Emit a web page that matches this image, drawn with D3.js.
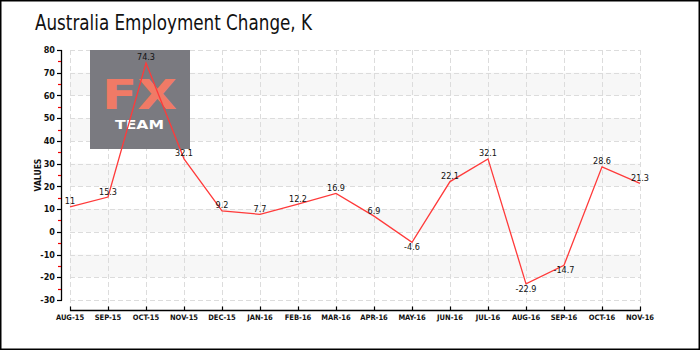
<!DOCTYPE html>
<html><head><meta charset="utf-8">
<script src="https://cdn.jsdelivr.net/npm/d3@7"></script>
<style>body{margin:0;background:#fff}svg{display:block}text{font-family:"DejaVu Sans Condensed","DejaVu Sans",sans-serif}</style>
</head><body>
<svg id="c" width="700" height="350"></svg>
<script>
const months = ["AUG-15","SEP-15","OCT-15","NOV-15","DEC-15","JAN-16","FEB-16","MAR-16","APR-16","MAY-16","JUN-16","JUL-16","AUG-16","SEP-16","OCT-16","NOV-16"];
const values = [11,15.3,74.3,32.1,9.2,7.7,12.2,16.9,6.9,-4.6,22.1,32.1,-22.9,-14.7,28.6,21.3];
const yTicks = [80,70,60,50,40,30,20,10,0,-10,-20,-30];
const yMinor = [75,65,55,45,35,25,15,5,-5,-15,-25];
const bands = [[60,70],[40,50],[20,30],[0,10],[-20,-10]];
const title = "Australia Employment Change, K";

const svg = d3.select("#c");
const x = d3.scalePoint().domain(months).range([70,640]);
const y = d3.scaleLinear().domain([-30,80]).range([300,50]);

svg.append("rect").attr("x",0.75).attr("y",0.75).attr("width",698.5).attr("height",348.5)
  .attr("fill","#fff").attr("stroke","#000").attr("stroke-width",1.5);

svg.append("text").attr("x",35).attr("y",30).attr("font-size",21).attr("fill","#111")
  .attr("textLength",277).attr("lengthAdjust","spacingAndGlyphs").text(title);

// bands
svg.append("g").selectAll("rect").data(bands).join("rect")
  .attr("x",70).attr("width",570).attr("y",d=>y(d[1])).attr("height",d=>y(d[0])-y(d[1]))
  .attr("fill","#f7f7f7");

// grid
const grid = svg.append("g").attr("stroke","#dcdcdc").attr("stroke-dasharray","5,3").attr("stroke-width",1);
grid.selectAll("line.h").data(yTicks).join("line").attr("class","h")
  .attr("x1",70).attr("x2",640).attr("y1",d=>Math.round(y(d))+0.5).attr("y2",d=>Math.round(y(d))+0.5);
grid.selectAll("line.v").data(months).join("line").attr("class","v")
  .attr("x1",d=>Math.round(x(d))+0.5).attr("x2",d=>Math.round(x(d))+0.5).attr("y1",50).attr("y2",308);

// logo
const logo = svg.append("g");
logo.append("rect").attr("x",90).attr("y",50).attr("width",100).attr("height",99).attr("fill","#7a7a80");
logo.append("text").attr("x",139.5).attr("y",109).attr("text-anchor","middle").attr("font-size",40)
  .attr("font-weight","bold").attr("fill","#f07a66").attr("textLength",75).attr("lengthAdjust","spacingAndGlyphs")
  .style("font-family","'DejaVu Sans',sans-serif").text("FX");
logo.append("text").attr("x",139.5).attr("y",129).attr("text-anchor","middle").attr("font-size",12)
  .attr("font-weight","bold").attr("fill","#fff").attr("textLength",49).attr("lengthAdjust","spacingAndGlyphs")
  .style("font-family","'DejaVu Sans',sans-serif").text("TEAM");

// y axis
const ya = svg.append("g");
ya.append("line").attr("x1",61.5).attr("x2",61.5).attr("y1",50).attr("y2",300.5).attr("stroke","#000").attr("stroke-width",1.3);
ya.selectAll("line.t").data(yTicks).join("line").attr("class","t")
  .attr("x1",57).attr("x2",62).attr("y1",d=>Math.round(y(d))+0.5).attr("y2",d=>Math.round(y(d))+0.5).attr("stroke","#000").attr("stroke-width",1.2);
ya.selectAll("line.m").data(yMinor).join("line").attr("class","m")
  .attr("x1",58).attr("x2",61).attr("y1",d=>Math.round(y(d))+0.5).attr("y2",d=>Math.round(y(d))+0.5).attr("stroke","#e00").attr("stroke-width",1.2);
ya.selectAll("text").data(yTicks).join("text")
  .attr("x",55).attr("y",d=>y(d)+3.2).attr("text-anchor","end").attr("font-size",9).attr("font-weight","bold").attr("fill","#111").text(d=>d);
svg.append("text").attr("transform","translate(40.5,175) rotate(-90)").attr("text-anchor","middle")
  .attr("font-size",8.5).attr("font-weight","bold").attr("fill","#111").text("VALUES");

// x axis
const xa = svg.append("g");
xa.append("line").attr("x1",70).attr("x2",641).attr("y1",310.5).attr("y2",310.5).attr("stroke","#000").attr("stroke-width",1.3);
xa.selectAll("line.t").data(months).join("line").attr("class","t")
  .attr("x1",d=>Math.round(x(d))+0.5).attr("x2",d=>Math.round(x(d))+0.5).attr("y1",306.5).attr("y2",311).attr("stroke","#000").attr("stroke-width",1.2);
xa.selectAll("text").data(months).join("text")
  .attr("x",d=>x(d)).attr("y",320).attr("text-anchor","middle").attr("font-size",7.5).attr("font-weight","bold").attr("fill","#111").text(d=>d);

// line
const line = d3.line().x((d,i)=>x(months[i])).y(d=>y(d));
svg.append("path").datum(values).attr("d",line).attr("fill","none").attr("stroke","#ff3a3a").attr("stroke-width",1.3);

// labels
svg.append("g").selectAll("text").data(values).join("text")
  .attr("x",(d,i)=>x(months[i])).attr("y",d=>d<0? y(d)+8 : y(d)-2.5)
  .attr("text-anchor","middle").attr("font-size",9).attr("fill","#111").text(d=>d);
</script>
</body></html>
